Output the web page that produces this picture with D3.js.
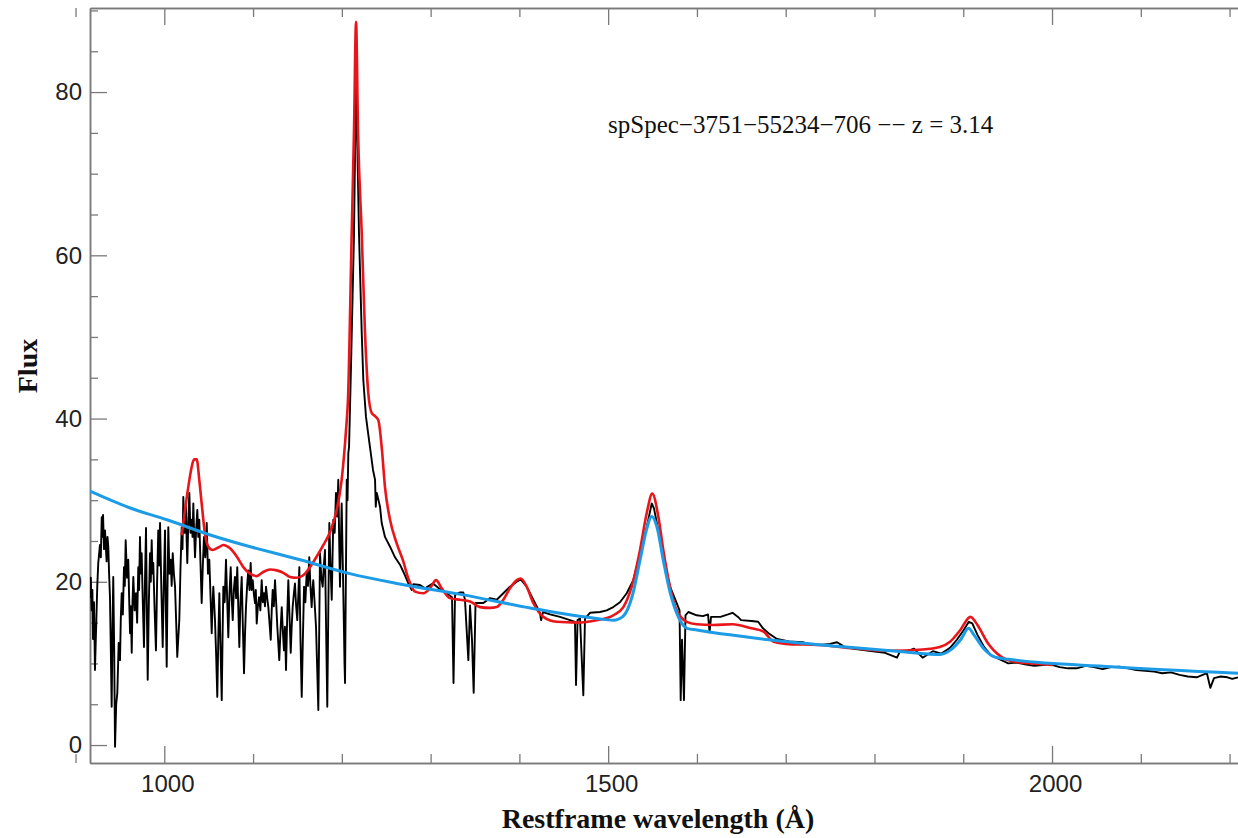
<!DOCTYPE html>
<html>
<head>
<meta charset="utf-8">
<script src="https://cdn.jsdelivr.net/npm/d3@7"></script>
<style>
  body { margin: 0; background: #fff; }
  .axis-title { font-family: "Liberation Serif", "Times New Roman", serif; font-weight: bold; font-size: 28px; fill: #111; }
  .note { font-family: "Liberation Serif", "Times New Roman", serif; font-size: 25px; fill: #111; }
</style>
</head>
<body>
<div id="chart"></div>
<script>
// observed spectrum [wavelength, flux]
var spectrum = [
  [916.3, 18.0], [917.2, 20.5], [918.2, 16.5], [919.0, 19.0], [919.7, 13.0], [920.8, 17.5], [921.9, 9.2], [923.5, 15.5],
  [924.5, 19.5], [925.6, 22.3], [927.5, 24.5], [928.5, 23.0], [929.5, 27.9], [930.2, 25.5], [931.0, 28.2], [932.1, 24.0],
  [933.2, 26.3], [935.0, 22.5], [936.0, 25.5], [936.9, 24.3], [937.8, 21.0], [938.8, 18.1], [939.7, 12.0], [940.7, 4.7],
  [941.6, 14.0], [942.5, 20.6], [943.5, 12.0], [944.5, -0.2], [945.8, 5.0], [947.1, 6.4], [948.6, 12.5], [950.1, 10.4],
  [951.0, 15.5], [952.0, 18.6], [953.3, 16.0], [954.6, 21.8], [955.5, 19.5], [956.5, 25.1], [958.0, 20.5], [959.4, 22.7],
  [960.4, 18.0], [961.4, 13.7], [962.3, 17.0], [963.3, 11.3], [964.2, 17.5], [965.1, 20.6], [966.6, 16.5], [968.1, 18.6],
  [969.4, 15.0], [970.7, 21.8], [971.6, 19.0], [972.6, 25.5], [973.5, 21.0], [974.5, 23.5], [975.8, 17.5], [977.1, 12.0],
  [978.2, 20.0], [979.4, 26.6], [980.3, 17.0], [981.3, 8.0], [982.6, 17.5], [983.9, 23.5], [984.8, 20.0], [985.8, 25.1],
  [986.7, 21.0], [987.6, 22.3], [989.1, 16.5], [990.6, 11.6], [991.9, 20.0], [993.2, 26.3], [994.2, 22.0], [995.2, 27.2],
  [996.7, 19.0], [998.2, 12.0], [999.5, 20.0], [1000.8, 26.3], [1001.7, 17.0], [1002.7, 9.6], [1003.6, 19.0], [1004.5, 26.7],
  [1005.8, 21.0], [1007.2, 22.7], [1008.3, 19.5], [1009.5, 23.5], [1010.8, 21.0], [1012.1, 19.4], [1013.4, 15.0], [1014.6, 10.8],
  [1015.7, 13.0], [1016.9, 15.3], [1018.2, 21.5], [1019.6, 26.7], [1020.5, 24.0], [1021.4, 30.4], [1022.9, 26.0], [1024.4, 29.2],
  [1025.2, 25.0], [1025.9, 22.3], [1027.0, 27.0], [1028.2, 30.9], [1029.5, 26.0], [1030.9, 27.6], [1031.8, 25.5], [1032.7, 29.6],
  [1033.6, 26.0], [1034.6, 23.0], [1035.9, 26.5], [1037.2, 28.8], [1038.3, 25.5], [1039.4, 27.6], [1040.7, 22.5], [1042.1, 17.4],
  [1043.4, 22.0], [1044.7, 25.5], [1046.2, 23.0], [1047.8, 27.2], [1049.2, 21.0], [1050.7, 22.7], [1052.0, 18.5], [1053.4, 13.7],
  [1054.3, 17.0], [1055.2, 19.4], [1056.1, 17.5], [1057.1, 15.3], [1058.4, 11.0], [1059.7, 5.9], [1060.8, 13.0], [1062.0, 18.6],
  [1063.3, 12.0], [1064.7, 5.5], [1065.6, 13.0], [1066.5, 19.4], [1068.0, 17.5], [1069.5, 22.7], [1070.8, 18.0], [1072.1, 13.2],
  [1073.4, 18.5], [1074.8, 21.8], [1075.9, 18.0], [1077.1, 15.3], [1078.3, 19.0], [1079.6, 20.6], [1080.9, 18.0], [1082.2, 21.8],
  [1083.3, 17.0], [1084.5, 12.0], [1085.8, 17.5], [1087.2, 20.6], [1088.5, 14.5], [1089.8, 8.8], [1090.9, 13.5], [1092.0, 16.9],
  [1093.3, 19.5], [1094.6, 21.4], [1096.0, 19.0], [1097.3, 22.3], [1098.4, 19.0], [1099.6, 20.2], [1100.9, 18.5], [1102.2, 17.4],
  [1103.1, 19.0], [1104.1, 14.9], [1105.4, 17.0], [1106.7, 18.1], [1108.2, 16.5], [1109.7, 20.2], [1111.0, 17.5], [1112.3, 18.6],
  [1113.4, 17.0], [1114.6, 19.4], [1115.9, 18.0], [1117.2, 16.9], [1118.5, 15.0], [1119.9, 12.9], [1121.0, 16.5], [1122.1, 19.0],
  [1123.4, 17.0], [1124.7, 20.2], [1126.0, 17.5], [1127.3, 14.5], [1128.4, 12.5], [1129.5, 10.4], [1130.9, 14.0], [1132.3, 16.9],
  [1133.5, 14.0], [1134.8, 11.6], [1135.9, 14.5], [1137.1, 9.2], [1138.4, 15.5], [1139.7, 20.2], [1141.0, 16.0], [1142.4, 11.3],
  [1143.5, 14.5], [1144.6, 16.9], [1145.9, 18.5], [1147.2, 19.8], [1148.5, 17.0], [1149.8, 15.3], [1151.0, 18.5], [1152.1, 21.8],
  [1153.4, 13.0], [1154.8, 5.9], [1156.1, 13.0], [1157.4, 19.4], [1158.9, 17.5], [1160.4, 21.1], [1161.8, 19.5], [1163.3, 23.0],
  [1164.6, 19.5], [1166.0, 16.9], [1166.9, 19.0], [1167.8, 20.2], [1169.3, 17.5], [1170.9, 14.5], [1172.2, 9.5], [1173.5, 4.3],
  [1174.5, 14.0], [1175.4, 23.5], [1176.9, 20.5], [1178.4, 19.4], [1179.7, 22.0], [1181.0, 23.9], [1182.3, 14.0], [1183.6, 4.7],
  [1184.7, 16.0], [1185.9, 27.2], [1187.2, 22.0], [1188.6, 17.8], [1189.5, 23.0], [1190.4, 27.6], [1191.9, 26.0], [1193.4, 30.9],
  [1194.7, 28.0], [1196.0, 32.5], [1197.0, 25.0], [1197.9, 19.4], [1198.9, 25.0], [1199.8, 29.6], [1201.1, 22.0], [1202.4, 14.1],
  [1203.0, 10.0], [1203.6, 7.6], [1204.5, 20.0], [1205.5, 32.5], [1206.4, 30.0], [1207.3, 35.8], [1208.1, 36.5],
  [1210.3, 46.3], [1213.7, 62.7], [1216.0, 82.3], [1217.4, 73.7], [1219.3, 62.7],
  [1222.4, 50.5], [1224.2, 44.7], [1227.2, 40.2], [1229.1, 38.6], [1231.7, 36.5], [1235.1, 33.7], [1237.4, 32.5], [1238.2, 29.2],
  [1239.3, 30.9], [1243.0, 29.2], [1244.9, 27.2], [1248.6, 25.5], [1254.3, 24.3], [1259.9, 23.0], [1265.5, 22.1], [1271.1, 20.8],
  [1274.9, 19.8], [1278.7, 19.0], [1280.5, 19.7], [1288.0, 19.6], [1293.7, 19.2], [1302.7, 19.8], [1310.6, 19.1], [1318.1, 18.6],
  [1324.1, 18.1], [1325.8, 7.6], [1327.5, 18.4], [1333.1, 18.7], [1336.8, 18.7], [1338.7, 17.8], [1342.5, 10.4], [1344.4, 17.1],
  [1346.6, 12.9], [1348.5, 6.4], [1350.6, 17.4], [1359.4, 17.4], [1366.9, 18.0], [1374.5, 17.8], [1381.9, 18.6], [1389.4, 19.4],
  [1397.0, 20.0], [1401.5, 20.3], [1408.2, 19.4], [1415.7, 17.8], [1423.2, 16.2], [1424.4, 15.3], [1426.6, 16.3], [1434.5, 16.0],
  [1445.7, 15.7], [1457.0, 15.3], [1462.6, 15.1], [1463.8, 7.35], [1465.5, 15.3], [1468.3, 15.5], [1472.0, 6.1], [1473.9, 15.5],
  [1479.5, 16.2], [1490.8, 16.3], [1498.4, 16.5], [1505.8, 16.9], [1513.3, 17.5], [1520.9, 18.6], [1528.3, 20.2], [1535.9, 23.5],
  [1543.4, 26.7], [1549.1, 29.6], [1551.6, 29.0], [1556.5, 26.3], [1562.1, 22.7], [1569.7, 19.4], [1577.2, 17.4], [1580.4, 16.5],
  [1581.7, 5.5], [1583.2, 12.9], [1585.4, 5.5], [1587.1, 15.9], [1590.3, 16.3], [1599.7, 15.9], [1606.8, 15.8], [1612.5, 16.0],
  [1614.2, 13.8], [1615.9, 15.7], [1626.6, 15.7], [1635.0, 16.0], [1640.1, 16.2], [1646.3, 15.7], [1649.7, 15.3], [1661.4, 15.2],
  [1669.0, 15.1], [1674.4, 14.3], [1680.6, 13.7], [1690.2, 13.0], [1703.7, 12.7], [1719.2, 12.6], [1725.1, 12.4], [1738.6, 12.25],
  [1749.9, 12.4], [1757.8, 12.6], [1766.8, 12.0], [1776.9, 11.8], [1796.1, 11.5], [1811.9, 11.3], [1825.4, 10.7], [1828.8, 11.5],
  [1835.0, 11.4], [1844.5, 11.8], [1854.2, 10.7], [1865.8, 11.5], [1875.4, 11.2], [1885.1, 11.9], [1892.8, 12.9], [1900.5, 14.1],
  [1906.3, 15.1], [1910.2, 14.9], [1916.0, 13.5], [1923.6, 12.0], [1931.4, 11.0], [1943.0, 10.4], [1950.7, 10.0], [1960.0, 10.1],
  [1969.6, 9.9], [1980.0, 9.7], [1989.3, 9.8], [1998.0, 9.9], [2008.6, 9.55], [2018.0, 9.4], [2027.8, 9.4], [2038.0, 9.7],
  [2047.1, 9.55], [2057.0, 9.3], [2066.5, 9.55], [2076.0, 9.6], [2085.6, 9.4], [2095.0, 9.2], [2105.0, 9.1], [2115.0, 9.0],
  [2124.3, 8.8], [2134.0, 8.9], [2143.6, 8.6], [2153.0, 8.4], [2162.9, 8.3], [2174.5, 8.8], [2178.3, 7.0], [2182.5, 8.2],
  [2190.0, 8.4], [2197.6, 8.3], [2203.0, 8.1], [2209.5, 8.3]
]

// emission line + continuum model (red)
var model = [
  [1019.6, 25.7], [1027.0, 31.6], [1030.9, 34.1], [1033.5, 35.0], [1036.5, 35.0], [1039.4, 32.5], [1042.1, 29.6], [1045.8, 25.9],
  [1049.6, 24.3], [1054.5, 23.9], [1060.8, 24.2], [1066.5, 24.5], [1074.0, 24.1], [1081.6, 23.1], [1089.0, 21.8], [1096.5, 21.0],
  [1104.1, 20.7], [1111.5, 21.2], [1119.1, 21.5], [1126.6, 21.4], [1134.1, 21.1], [1141.6, 20.6], [1149.1, 20.5], [1156.6, 20.8],
  [1164.1, 21.8], [1171.7, 23.1], [1179.1, 24.5], [1186.7, 26.1], [1194.2, 28.8], [1199.8, 32.5], [1204.7, 38.6], [1206.9, 42.3],
  [1211.1, 62.7], [1213.7, 75.3], [1216.0, 88.6], [1218.2, 75.3], [1222.4, 62.7], [1226.1, 50.5], [1229.8, 43.1], [1233.6, 40.7],
  [1237.4, 40.3], [1241.1, 39.8], [1244.9, 36.5], [1248.6, 31.6], [1254.3, 27.6], [1261.8, 24.7], [1269.2, 22.5], [1274.9, 20.4],
  [1282.4, 18.8], [1291.8, 18.6], [1299.3, 19.2], [1306.1, 20.2], [1312.5, 19.2], [1321.8, 18.0], [1333.1, 17.8], [1344.4, 17.6],
  [1355.6, 16.9], [1366.9, 16.8], [1374.5, 16.9], [1381.9, 17.8], [1389.4, 19.2], [1397.0, 20.2], [1401.5, 20.4], [1408.2, 19.4],
  [1415.7, 17.4], [1426.9, 15.7], [1442.0, 15.1], [1464.6, 15.0], [1487.1, 15.3], [1505.8, 15.9], [1517.1, 16.9], [1526.5, 19.4],
  [1535.9, 23.9], [1543.4, 28.4], [1549.7, 30.8], [1556.5, 28.0], [1562.1, 23.9], [1569.7, 19.4], [1577.2, 16.5], [1588.5, 15.1],
  [1599.7, 14.8], [1618.5, 14.7], [1640.1, 14.8], [1661.4, 14.3], [1674.9, 13.9], [1686.4, 12.65], [1699.9, 12.4], [1738.5, 12.25],
  [1776.9, 11.85], [1815.7, 11.55], [1854.2, 11.7], [1873.5, 12.0], [1885.1, 12.65], [1896.7, 14.1], [1908.1, 15.7], [1916.0, 14.7],
  [1927.6, 12.5], [1943.0, 10.8], [1958.3, 10.2], [1989.3, 9.9], [2000.8, 9.8]
]

// power-law continuum with CIV / CIII] (blue)
var continuum = [
  [916.3, 31.1], [960, 29.1], [1003, 27.6], [1050, 25.8], [1100, 24.2], [1153, 22.7], [1209, 21.0], [1262, 19.8],
  [1337, 18.4], [1412, 16.8], [1487, 15.5], [1506, 15.3], [1517, 15.8], [1527, 18.2], [1536, 22.7], [1543, 26.3],
  [1549, 28.0], [1555, 26.7], [1562, 22.7], [1570, 18.6], [1579, 15.7], [1589, 14.3], [1600, 14.1], [1637, 13.5],
  [1681, 12.9], [1758, 12.1], [1835, 11.4], [1874, 11.1], [1885, 11.6], [1897, 12.9], [1906, 14.3], [1912, 13.5],
  [1924, 11.7], [1935, 10.8], [1951, 10.5], [2067, 9.6], [2209.5, 8.8]
]

var xTickLabels = [1000, 1500, 2000]
var yTickLabels = [0, 20, 40, 60, 80]
var noteText = "spSpec\u22123751\u221255234\u2212706 \u2212\u2212 z = 3.14"

var W = 1238, H = 838
var plot = { left: 90, right: 1238, top: 8, bottom: 763 }

var svg = d3.select("#chart")
    .append("svg")
        .attr("width", W)
        .attr("height", H)

var x = d3.scaleLinear()
    .domain([916.3, 2209.5])
    .range([plot.left, plot.right])

var y = d3.scaleLinear()
    .domain([-2.2, 90.3])
    .range([plot.bottom, plot.top])

svg.append("clipPath")
    .attr("id", "plot-clip")
    .append("rect")
        .attr("x", plot.left)
        .attr("y", plot.top)
        .attr("width", plot.right - plot.left)
        .attr("height", plot.bottom - plot.top)

var axisColor = "#7a7a7a"

function styleAxis(g){
    g.select(".domain").attr("stroke", axisColor).attr("stroke-width", 1.5)
    g.selectAll(".tick line").attr("stroke", axisColor).attr("stroke-width", 1.3)
    g.selectAll(".tick text")
        .attr("fill", "#222")
        .attr("font-family", "'Liberation Sans', Arial, sans-serif")
        .attr("font-size", 24)
}

// minor ticks every 100 A and every 5 flux units
var xMinor = d3.range(900, 2300, 100).filter(function(d){ return xTickLabels.indexOf(d) < 0 })
var yMinor = d3.range(5, 95, 5).filter(function(d){ return yTickLabels.indexOf(d) < 0 })

svg.append("g")
    .attr("transform", "translate(0," + plot.bottom + ")")
    .call(d3.axisBottom(x).tickValues(xMinor).tickSizeInner(-9).tickSizeOuter(0).tickFormat(""))
    .call(styleAxis)

svg.append("g")
    .attr("transform", "translate(0," + plot.bottom + ")")
    .call(d3.axisBottom(x).tickValues(xTickLabels).tickSizeInner(-17).tickSizeOuter(0).tickPadding(12).tickFormat(d3.format("d")))
    .call(styleAxis)
    .selectAll(".tick text").attr("dx", 3)

// top axis, mirrored ticks
svg.append("g")
    .attr("transform", "translate(0," + plot.top + ")")
    .call(d3.axisTop(x).tickValues(xMinor).tickSizeInner(-9).tickSizeOuter(0).tickFormat(""))
    .call(styleAxis)

svg.append("g")
    .attr("transform", "translate(0," + plot.top + ")")
    .call(d3.axisTop(x).tickValues(xTickLabels).tickSizeInner(-17).tickSizeOuter(0).tickFormat(""))
    .call(styleAxis)

// left axis
svg.append("g")
    .attr("transform", "translate(" + plot.left + ",0)")
    .call(d3.axisLeft(y).tickValues(yMinor).tickSizeInner(-8).tickSizeOuter(0).tickFormat(""))
    .call(styleAxis)

svg.append("g")
    .attr("transform", "translate(" + plot.left + ",0)")
    .call(d3.axisLeft(y).tickValues(yTickLabels).tickSizeInner(-17).tickSizeOuter(0).tickPadding(8).tickFormat(d3.format("d")))
    .call(styleAxis)

// curves
var lines = svg.append("g").attr("clip-path", "url(#plot-clip)")

lines.append("path")
    .datum(spectrum)
    .attr("fill", "none")
    .attr("stroke", "#000")
    .attr("stroke-width", 1.9)
    .attr("stroke-linejoin", "round")
    .attr("d", d3.line()
        .x(function(d){ return x(d[0]) })
        .y(function(d){ return y(d[1]) }))

lines.append("path")
    .datum(model)
    .attr("fill", "none")
    .attr("stroke", "#e8161b")
    .attr("stroke-width", 2.6)
    .attr("stroke-linejoin", "round")
    .attr("d", d3.line()
        .x(function(d){ return x(d[0]) })
        .y(function(d){ return y(d[1]) })
        .curve(d3.curveMonotoneX))

lines.append("path")
    .datum(continuum)
    .attr("fill", "none")
    .attr("stroke", "#1c9be6")
    .attr("stroke-width", 3)
    .attr("stroke-linejoin", "round")
    .attr("d", d3.line()
        .x(function(d){ return x(d[0]) })
        .y(function(d){ return y(d[1]) })
        .curve(d3.curveMonotoneX))

// labels
svg.append("text")
    .attr("class", "note")
    .attr("x", 608)
    .attr("y", 133)
    .text(noteText)

svg.append("text")
    .attr("class", "axis-title")
    .attr("text-anchor", "middle")
    .attr("x", 658)
    .attr("y", 828)
    .text("Restframe wavelength (\u00c5)")

svg.append("text")
    .attr("class", "axis-title")
    .attr("text-anchor", "middle")
    .attr("transform", "translate(37,366) rotate(-90)")
    .text("Flux")
</script>
</body>
</html>
